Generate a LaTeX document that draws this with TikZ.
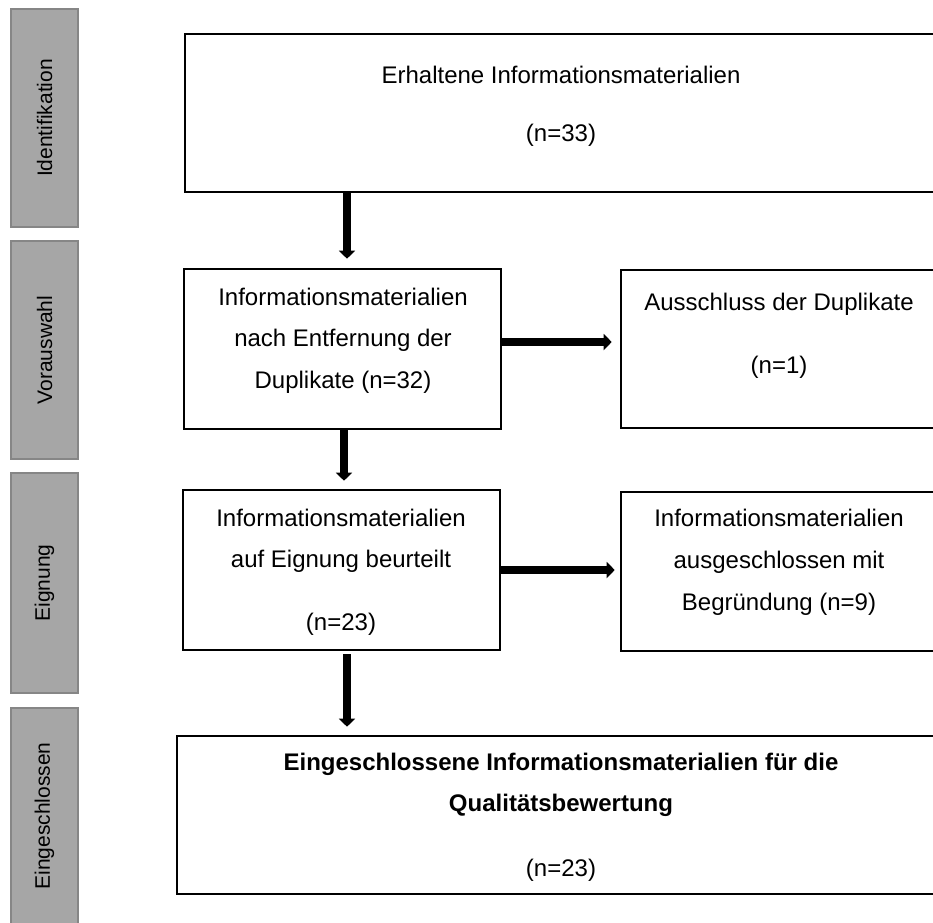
\documentclass[tikz,border=0pt]{standalone}
\usepackage{fontspec}
\setmainfont{Liberation Sans}
\usetikzlibrary{arrows.meta}
\definecolor{phasefill}{HTML}{A6A6A6}
\definecolor{phasedraw}{HTML}{868686}
\begin{document}
\begin{tikzpicture}[x=1pt,y=-1pt,
  box/.style={draw=black, line width=2.6pt, inner sep=0pt, fill=white},
  phase/.style={draw=phasedraw, fill=phasefill, line width=2pt, inner sep=0pt},
  lbl/.style={font=\fontsize{24}{28}\selectfont, anchor=base, inner sep=0pt},
  blbl/.style={font=\fontsize{24}{28}\selectfont\bfseries, anchor=base, inner sep=0pt},
  plbl/.style={font=\fontsize{21}{25}\selectfont, rotate=90, inner sep=0pt},
  arr/.style={line width=8pt, -{Triangle[width=16pt,length=8pt]}}]
\useasboundingbox (0,0) rectangle (933,922);
\clip (0,0) rectangle (933,922);
\fill[white] (0,0) rectangle (933,922);

% phase bars
\node[phase, minimum width=67pt, minimum height=218pt] (p1) at (44.5,118) {};
\node[plbl] (p1t) at (p1.center) {Identifikation};
\node[phase, minimum width=67pt, minimum height=218pt] (p2) at (44.5,350) {};
\node[plbl] (p2t) at (p2.center) {Vorauswahl};
\node[phase, minimum width=67pt, minimum height=220pt] (p3) at (44.5,583) {};
\node[plbl] (p3t) at (p3.center) {Eignung};
\node[phase, minimum width=67pt, minimum height=216pt] (p4) at (44.5,816) {};
\node[plbl] (p4t) at (p4.center) {Eingeschlossen};

% boxes
\node[box, minimum width=752pt, minimum height=158pt] (top) at (561,113) {};
\node[box, minimum width=317pt, minimum height=160pt] (vor) at (342.5,349) {};
\node[box, minimum width=316pt, minimum height=158pt] (aus) at (779,349) {};
\node[box, minimum width=317pt, minimum height=160pt] (eig) at (341.5,570) {};
\node[box, minimum width=316pt, minimum height=159pt] (exc) at (779,571.5) {};
\node[box, minimum width=768pt, minimum height=158pt] (inc) at (561,815) {};

% texts
\node[lbl] (top1) at (561,83) {Erhaltene Informationsmaterialien};
\node[lbl] (top2) at (561,141) {(n=33)};
\node[lbl] (vor1) at (343,305) {Informationsmaterialien};
\node[lbl] (vor2) at (343,346) {nach Entfernung der};
\node[lbl] (vor3) at (343,388) {Duplikate (n=32)};
\node[lbl] (aus1) at (779,310) {Ausschluss der Duplikate};
\node[lbl] (aus2) at (779,373) {(n=1)};
\node[lbl] (eig1) at (341,526) {Informationsmaterialien};
\node[lbl] (eig2) at (341,567) {auf Eignung beurteilt};
\node[lbl] (eig3) at (341,630) {(n=23)};
\node[lbl] (exc1) at (779,526) {Informationsmaterialien};
\node[lbl] (exc2) at (779,568) {ausgeschlossen mit};
\node[lbl] (exc3) at (779,610) {Begründung (n=9)};
\node[blbl] (inc1) at (561,770) {Eingeschlossene Informationsmaterialien für die};
\node[blbl] (inc2) at (561,811) {Qualitätsbewertung};
\node[lbl] (inc3) at (561,876) {(n=23)};

% arrow guides
\coordinate (ax1) at (347,0);
\coordinate (ax3) at (344,0);
\coordinate (ax5) at (347,0);
\coordinate (ay2) at (0,342);
\coordinate (ay4) at (0,570);

% arrows
\draw[arr, shorten >=9pt] (top.south -| ax1) -- (vor.north -| ax1);
\draw[arr, shorten >=8pt] (vor.east |- ay2) -- (aus.west |- ay2);
\draw[arr, shorten >=8pt] (vor.south -| ax3) -- (eig.north -| ax3);
\draw[arr, shorten >=5pt] (eig.east |- ay4) -- (exc.west |- ay4);
\draw[arr, shorten <=3pt, shorten >=8pt] (eig.south -| ax5) -- (inc.north -| ax5);
\end{tikzpicture}
\end{document}
